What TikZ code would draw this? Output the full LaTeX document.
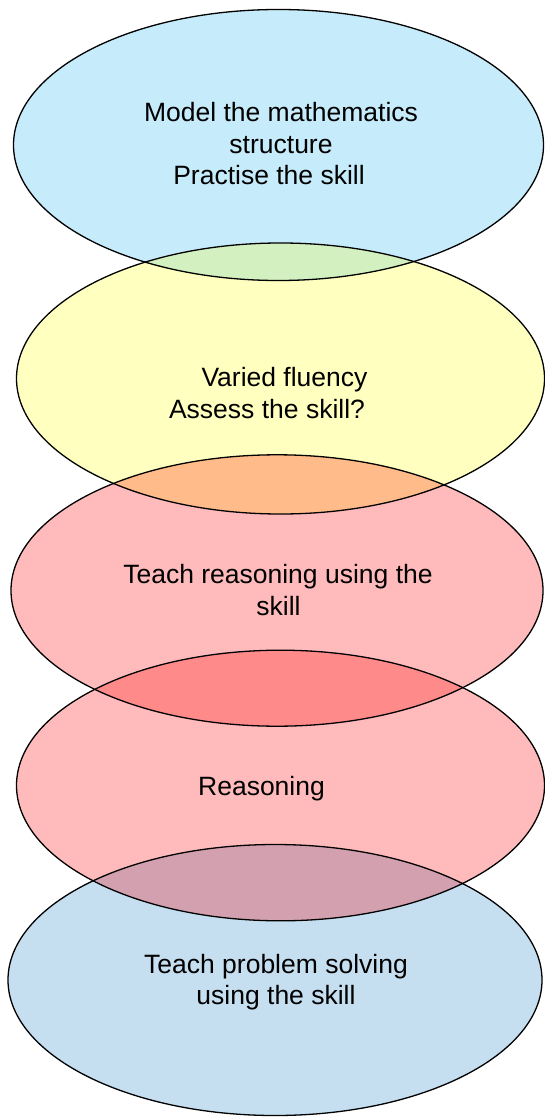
\documentclass[tikz,border=0pt]{standalone}
\usepackage{fontspec}
\setmainfont{Liberation Sans}
\begin{document}
\begin{tikzpicture}[x=1pt,y=-1pt,
  lbl/.style={anchor=base,inner sep=0pt,font=\fontsize{26.5}{32}\selectfont},
  outline/.style={draw=black,line width=1.3pt}]
\definecolor{cA}{RGB}{198,235,250}
\definecolor{cB}{RGB}{255,255,192}
\definecolor{cC}{RGB}{255,187,187}
\definecolor{cD}{RGB}{255,187,187}
\definecolor{cE}{RGB}{197,222,240}
\definecolor{oAB}{RGB}{210,240,192}
\definecolor{oBC}{RGB}{255,187,138}
\definecolor{oCD}{RGB}{255,138,138}
\definecolor{oDE}{RGB}{211,160,175}
\useasboundingbox (0,0) rectangle (544,1118);
\def\eA{(278.5,145) ellipse [x radius=265pt, y radius=135.5pt]}
\def\eB{(280.5,378.5) ellipse [x radius=264pt, y radius=135.5pt]}
\def\eC{(277,590.5) ellipse [x radius=266pt, y radius=135.7pt]}
\def\eD{(280.5,785.5) ellipse [x radius=264pt, y radius=135.3pt]}
\def\eE{(275,980) ellipse [x radius=267pt, y radius=135.5pt]}
% fills
\fill[cA] \eA;
\fill[cB] \eB;
\fill[cC] \eC;
\fill[cD] \eD;
\fill[cE] \eE;
% overlaps
\begin{scope}\clip \eA; \fill[oAB] \eB;\end{scope}
\begin{scope}\clip \eB; \fill[oBC] \eC;\end{scope}
\begin{scope}\clip \eC; \fill[oCD] \eD;\end{scope}
\begin{scope}\clip \eD; \fill[oDE] \eE;\end{scope}
% outlines
\path[outline] \eA;
\path[outline] \eB;
\path[outline] \eC;
\path[outline] \eD;
\path[outline] \eE;
% texts
\node[lbl] (a1) at (281,121.7) {Model the mathematics};
\node[lbl] (a2) at (281,153.3) {structure};
\node[lbl] (a3) at (269,185) {Practise the skill};
\node[lbl] (b1) at (284.5,386.7) {Varied fluency};
\node[lbl] (b2) at (267,418.3) {Assess the skill?};
\node[lbl] (c1) at (278,583.3) {Teach reasoning using the};
\node[lbl] (c2) at (278.5,615) {skill};
\node[lbl] (d1) at (261.5,795) {Reasoning};
\node[lbl] (e1) at (276,973.3) {Teach problem solving};
\node[lbl] (e2) at (276,1004) {using the skill};
\end{tikzpicture}
\end{document}
